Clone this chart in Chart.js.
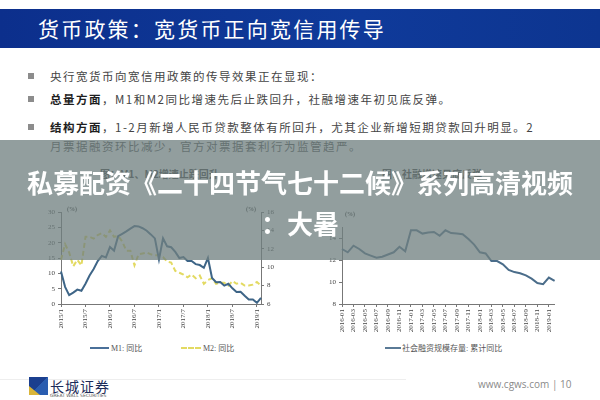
<!DOCTYPE html>
<html>
<head>
<meta charset="utf-8">
<script src="https://cdn.jsdelivr.net/npm/chart.js@4.4.0/dist/chart.umd.min.js"></script>
<style>
  html, body { margin: 0; padding: 0; }
  body { width: 600px; height: 400px; position: relative; overflow: hidden; background: #fff;
         font-family: "Noto Sans CJK SC", sans-serif; }
  .abs { position: absolute; white-space: nowrap; }
  #titlebar { left: 0; top: 9px; width: 600px; height: 39px;
              background: linear-gradient(90deg, #0c2f8c, #0f3a9a 60%, #0d3590); }
  #titlebar span { position: absolute; left: 38px; top: 0; line-height: 39px; font-size: 21px;
                   letter-spacing: 2.2px; color: #fff; }
  .bullet { left: 28px; width: 6px; height: 6px; background: #8c8c8c; }
  .line { left: 50px; font-size: 11.5px; letter-spacing: 1.5px; color: #444; line-height: 14px; }
  .line b { color: #1e1e1e; }
  .ctitle { font-size: 10px; color: #333; font-weight: bold; }
  .unit { font-family: "Liberation Serif", serif; font-size: 6px; font-weight: bold; color: #333; }
  .leg { font-family: "Liberation Serif", "Noto Sans CJK SC", serif; font-size: 8px; color: #555; }
  #banner { left: 0; top: 140px; width: 600px; height: 120px; background: rgba(112, 128, 128, 0.76);
            z-index: 5; text-align: center; color: #fff; font-weight: bold; font-size: 26px;
            line-height: 41px; padding-top: 21px; box-sizing: border-box; }
  canvas { position: absolute; }
</style>
</head>
<body>
<div id="titlebar" class="abs"><span>货币政策：宽货币正向宽信用传导</span></div>

<div class="abs bullet" style="top:73px"></div>
<div class="abs line" style="top:69px">央行宽货币向宽信用政策的传导效果正在显现：</div>
<div class="abs bullet" style="top:96px"></div>
<div class="abs line" style="top:92px"><b>总量方面</b>，M1和M2同比增速先后止跌回升，社融增速年初见底反弹。</div>
<div class="abs bullet" style="top:124px"></div>
<div class="abs line" style="top:120px"><b>结构方面</b>，1-2月新增人民币贷款整体有所回升，尤其企业新增短期贷款回升明显。2</div>
<div class="abs line" style="top:139px">月票据融资环比减少，官方对票据套利行为监管趋严。</div>

<div class="abs ctitle" style="left:100px; top:166px">图：M1、M2增速止跌回升</div>
<div class="abs ctitle" style="left:382px; top:166px">图：社融增速见底反弹</div>

<canvas id="left" width="248" height="140" style="left:30px; top:200px"></canvas>
<canvas id="right" width="255" height="140" style="left:310px; top:200px"></canvas>

<div class="abs unit" style="left:67px; top:206px">(%)</div>
<div class="abs unit" style="left:246px; top:206px">(%)</div>
<div class="abs unit" style="left:345px; top:211px">(%)</div>

<div class="abs" style="left:90px; top:347px; width:19px; height:2px; background:#4a7099"></div>
<div class="abs leg" style="left:111px; top:342px">M1: 同比</div>
<div class="abs" style="left:181px; top:347px; width:20px; border-top:2px dashed #e3da62"></div>
<div class="abs leg" style="left:203px; top:342px">M2: 同比</div>
<div class="abs" style="left:385px; top:347px; width:16px; height:2px; background:#5a7a96"></div>
<div class="abs leg" style="left:402px; top:342px">社会融资规模存量: 累计同比</div>

<div id="banner" class="abs"><div>私募配资《二十四节气七十二候》系列高清视频</div><div>：大暑</div></div>

<div class="abs" style="left:0; top:379px; width:406px; height:1px; background:#eeeeee"></div>
<div class="abs" style="left:29px; top:377px; width:19px; height:18px;
     background: linear-gradient(135deg, #1b3f8f 0 50%, #2a5db0 50% 100%)"></div>
<div class="abs" style="left:29px; top:386px; width:0; height:0; border-left:11px solid #d9b53a;
     border-top:9px solid transparent; border-bottom:0 solid transparent"></div>
<div class="abs" style="left:50px; top:376px; font-size:14px; color:#1c2c5a; letter-spacing:1px;">长城证券</div>
<div class="abs" style="left:50px; top:393px; font-size:4.5px; color:#555; font-family:'DejaVu Sans';">GREAT WALL SECURITIES</div>
<div class="abs" style="left:478px; top:377px; font-size:10px; color:#8a8a8a; font-family:'Open Sans';">www.cgws.com | 10</div>

<script>
// M1 / M2 monthly, 2015/1 - 2019/2
const m1Values = [10.6, 5.6, 2.9, 3.7, 4.7, 4.3, 6.6, 9.3, 11.4, 14.0, 15.7, 15.2,
                  18.6, 17.4, 22.1, 22.9, 23.7, 24.6, 25.4, 25.3, 24.7, 23.9, 22.7, 21.4,
                  14.5, 21.4, 18.8, 18.5, 17.0, 15.0, 15.3, 14.0, 14.0, 13.0, 12.7, 11.8,
                  15.0, 8.5, 7.1, 7.2, 6.0, 6.6, 5.1, 3.9, 4.0, 2.7, 1.5, 1.5,
                  0.4, 2.0];
const m2Values = [10.8, 12.5, 11.6, 10.1, 10.8, 10.2, 13.3, 13.3, 13.1, 13.5, 13.7, 13.3,
                  14.0, 13.3, 13.4, 12.8, 11.8, 11.8, 10.2, 11.4, 11.5, 11.6, 11.4, 11.3,
                  11.3, 11.1, 10.6, 10.5, 9.6, 9.4, 9.2, 8.9, 9.2, 8.8, 9.1, 8.2,
                  8.6, 8.8, 8.2, 8.3, 8.3, 8.0, 8.5, 8.2, 8.3, 8.0, 8.0, 8.1,
                  8.4, 8.0];
const leftTickLabels = ['2015/1', '2015/7', '2016/1', '2016/7', '2017/1', '2017/7', '2018/1', '2018/7', '2019/1'];

// social financing stock yoy, 2016-01 - 2019-02
const tsfValues = [13.0, 12.7, 13.3, 13.0, 12.6, 12.4, 12.2, 12.3, 12.5, 12.7, 13.2, 12.8,
                   14.7, 14.7, 14.4, 14.5, 14.55, 14.2, 14.7, 14.45, 14.4, 14.35, 13.9, 13.4,
                   12.7, 12.6, 11.9, 11.9, 11.6, 11.1, 10.9, 10.8, 10.6, 10.3, 9.9, 9.8,
                   10.4, 10.1];
const rightTickLabels = ['2016-01', '2016-03', '2016-05', '2016-07', '2016-09', '2016-11',
                         '2017-01', '2017-03', '2017-05', '2017-07', '2017-09', '2017-11',
                         '2018-01', '2018-03', '2018-05', '2018-07', '2018-09', '2018-11', '2019-01'];

const leftLabels = [];
for (let y = 2015; y <= 2019; y++) for (let m = 1; m <= 12; m++) if (leftLabels.length < m1Values.length) leftLabels.push(y + '/' + m);
const rightLabels = [];
for (let y = 2016; y <= 2019; y++) for (let m = 1; m <= 12; m++) if (rightLabels.length < tsfValues.length) rightLabels.push(y + '-' + String(m).padStart(2, '0'));

const tickFont = { family: 'Liberation Serif', size: 7 };
const axisBorder = { display: true, color: '#777', width: 1 };

function xAxis(labels, shown) {
    return {
        type: 'category',
        offset: false,
        border: axisBorder,
        grid: {
            drawOnChartArea: false, tickLength: 3,
            tickColor: ctx => shown.includes(labels[ctx.index]) ? '#777' : 'rgba(0,0,0,0)'
        },
        ticks: {
            autoSkip: false, maxRotation: 90, minRotation: 90, padding: 2,
            font: tickFont, color: '#444',
            callback: (v, i) => shown.includes(labels[i]) ? labels[i] : ''
        },
        afterFit: s => { s.height = 36; }
    };
}

function yAxis(pos, min, max, step, w) {
    return {
        position: pos, min: min, max: max,
        border: axisBorder,
        grid: { drawOnChartArea: false, tickLength: 3, color: '#777' },
        ticks: { stepSize: step, font: tickFont, color: '#444', padding: 3 },
        afterFit: s => { s.width = w; }
    };
}

new Chart(document.getElementById('left'), {
    type: 'line',
    data: {
        labels: leftLabels,
        datasets: [
            { label: 'M1: 同比', data: m1Values, borderColor: '#3e6587', borderWidth: 2,
              pointRadius: 0, tension: 0, yAxisID: 'y' },
            { label: 'M2: 同比', data: m2Values, borderColor: '#e3da62', borderWidth: 2,
              borderDash: [5, 3], pointRadius: 0, tension: 0, yAxisID: 'y1' }
        ]
    },
    options: {
        responsive: false, animation: false,
        layout: { padding: { top: 12, left: 0, right: 0, bottom: 0 } },
        plugins: { legend: { display: false }, tooltip: { enabled: false } },
        scales: {
            x: xAxis(leftLabels, leftTickLabels),
            y: yAxis('left', 0, 30, 5, 31),
            y1: yAxis('right', 6, 16, 1, 17)
        }
    }
});

new Chart(document.getElementById('right'), {
    type: 'line',
    data: {
        labels: rightLabels,
        datasets: [
            { label: '社会融资规模存量: 累计同比', data: tsfValues, borderColor: '#4b6d8a',
              borderWidth: 2, pointRadius: 0, tension: 0 }
        ]
    },
    options: {
        responsive: false, animation: false,
        layout: { padding: { top: 27, left: 0, right: 9, bottom: 0 } },
        plugins: { legend: { display: false }, tooltip: { enabled: false } },
        scales: {
            x: xAxis(rightLabels, rightTickLabels),
            y: yAxis('left', 8, 15, 1, 32)
        }
    }
});
</script>
</body>
</html>
